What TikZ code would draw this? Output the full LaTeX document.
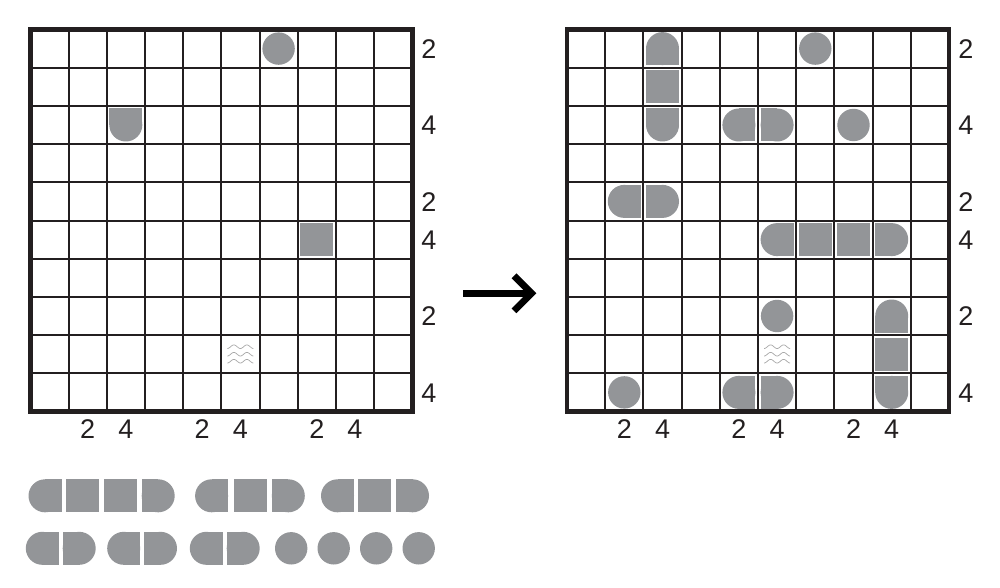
\documentclass[tikz,border=0pt]{standalone}
\usepackage{fontspec}
\setmainfont{Liberation Sans}
\usetikzlibrary{calc}
\definecolor{ink}{HTML}{231F20}
\definecolor{piecegrey}{HTML}{939598}
\definecolor{wavegrey}{HTML}{A8A8A8}
\tikzset{
  piece/.style={fill=piecegrey},
  thinline/.style={draw=ink, line width=2.0},
  border/.style={draw=ink, line width=4.4},
  clue/.style={inner sep=0pt, font=\fontsize{27}{32}\selectfont, text=ink},
  wave/.style={draw=wavegrey, line width=0.7},
  pics/endp/.style={code={
     \fill[piece] (0,0) circle (16.5);
     \fill[piece] (0,-16.5) rectangle (16.5,16.5);}},
  pics/midp/.style={code={
     \fill[piece] (-16.5,-16.5) rectangle (16.5,16.5);}},
  pics/circp/.style={code={
     \fill[piece] (0,0) circle (16.2);}},
  pics/waterp/.style={code={
     \foreach \dy in {-7.5,0,7}{
       \draw[wave] plot[domain=0:26, samples=41, smooth] ({\x-13},{\dy+1.8*cos(360*\x/13)});}}}
}
\begin{document}
\begin{tikzpicture}[x=1pt,y=-1pt]
\useasboundingbox (0,0) rectangle (1000,588);
\fill[white] (0,0) rectangle (1000,588);

% ---------- left grid ----------
\begin{scope}[shift={(30.3,29.5)}]
  \foreach \i in {1,...,9}{
    \draw[thinline] ({38.2*\i},0) -- ({38.2*\i},382);
    \draw[thinline] (0,{38.2*\i}) -- (382,{38.2*\i});
  }
  \draw[border] (0,0) rectangle (382,382);
  % givens
  \pic at ({38.2*6.5},{38.2*0.5}) {circp};
  \pic[rotate=90] at ({38.2*2.5},{38.2*2.5}) {endp};
  \pic at ({38.2*7.5},{38.2*5.5}) {midp};
  \pic at ({38.2*5.5},{38.2*8.5}) {waterp};
  % row clues
  \foreach \r/\v [count=\k] in {1/2,3/4,5/2,6/4,8/2,10/4}
    \node[clue] (lr\k) at (398.5,{38.2*(\r-0.5)+0.5}) {\v};
  % column clues
  \foreach \c/\v [count=\k] in {2/2,3/4,5/2,6/4,8/2,9/4}
    \node[clue] (lc\k) at ({38.2*(\c-0.5)},399.7) {\v};
\end{scope}

% ---------- arrow ----------
\coordinate (arrS) at (463.3,293.3);
\coordinate (arrT) at (531.5,293.3);
\draw[draw=black, line width=6.5] (arrS) -- (arrT);
\draw[draw=black, line width=6.8, miter limit=10]
  ($(arrT)+(-17.5,-17.5)$) -- (arrT) -- ($(arrT)+(-17.5,17.5)$);

% ---------- right grid ----------
\begin{scope}[shift={(567,29.5)}]
  \foreach \i in {1,...,9}{
    \draw[thinline] ({38.2*\i},0) -- ({38.2*\i},382);
    \draw[thinline] (0,{38.2*\i}) -- (382,{38.2*\i});
  }
  \draw[border] (0,0) rectangle (382,382);
  % vertical 3-ship col 3 rows 1-3
  \pic[rotate=-90] at ({38.2*2.5},{38.2*0.5}) {endp};
  \pic at ({38.2*2.5},{38.2*1.5}) {midp};
  \pic[rotate=90] at ({38.2*2.5},{38.2*2.5}) {endp};
  % circles
  \foreach \r/\c in {1/7,3/8,8/6,10/2}
    \pic at ({38.2*(\c-0.5)},{38.2*(\r-0.5)}) {circp};
  % horizontal 2-ships
  \foreach \r/\c in {3/5,5/2,10/5}{
    \pic at ({38.2*(\c-0.5)},{38.2*(\r-0.5)}) {endp};
    \pic[rotate=180] at ({38.2*(\c+0.5)},{38.2*(\r-0.5)}) {endp};
  }
  % 4-ship row 6 cols 6-9
  \pic at ({38.2*5.5},{38.2*5.5}) {endp};
  \pic at ({38.2*6.5},{38.2*5.5}) {midp};
  \pic at ({38.2*7.5},{38.2*5.5}) {midp};
  \pic[rotate=180] at ({38.2*8.5},{38.2*5.5}) {endp};
  % vertical 3-ship col 9 rows 8-10
  \pic[rotate=-90] at ({38.2*8.5},{38.2*7.5}) {endp};
  \pic at ({38.2*8.5},{38.2*8.5}) {midp};
  \pic[rotate=90] at ({38.2*8.5},{38.2*9.5}) {endp};
  % water
  \pic at ({38.2*5.5},{38.2*8.5}) {waterp};
  % row clues
  \foreach \r/\v [count=\k] in {1/2,3/4,5/2,6/4,8/2,10/4}
    \node[clue] (rr\k) at (398.8,{38.2*(\r-0.5)+0.5}) {\v};
  % column clues
  \foreach \c/\v [count=\k] in {2/2,3/4,5/2,6/4,8/2,9/4}
    \node[clue] (rc\k) at ({38.2*(\c-0.5)},399.7) {\v};
\end{scope}

% ---------- fleet ----------
% row 1
\pic at (45,495.8) {endp};
\pic at (82.8,495.8) {midp};
\pic at (120.4,495.8) {midp};
\pic[rotate=180] at (158.2,495.8) {endp};
\pic at (211.6,495.8) {endp};
\pic at (250,495.8) {midp};
\pic[rotate=180] at (288.3,495.8) {endp};
\pic at (337.5,495.8) {endp};
\pic at (374.7,495.8) {midp};
\pic[rotate=180] at (412.5,495.8) {endp};
% row 2
\pic at (42.3,548.3) {endp};
\pic[rotate=180] at (79.2,548.3) {endp};
\pic at (123.7,548.3) {endp};
\pic[rotate=180] at (160.5,548.3) {endp};
\pic at (206.3,548.3) {endp};
\pic[rotate=180] at (243.2,548.3) {endp};
\foreach \x in {291.2,333.7,376.2,418.7}
  \pic at (\x,548.3) {circp};
\end{tikzpicture}
\end{document}
